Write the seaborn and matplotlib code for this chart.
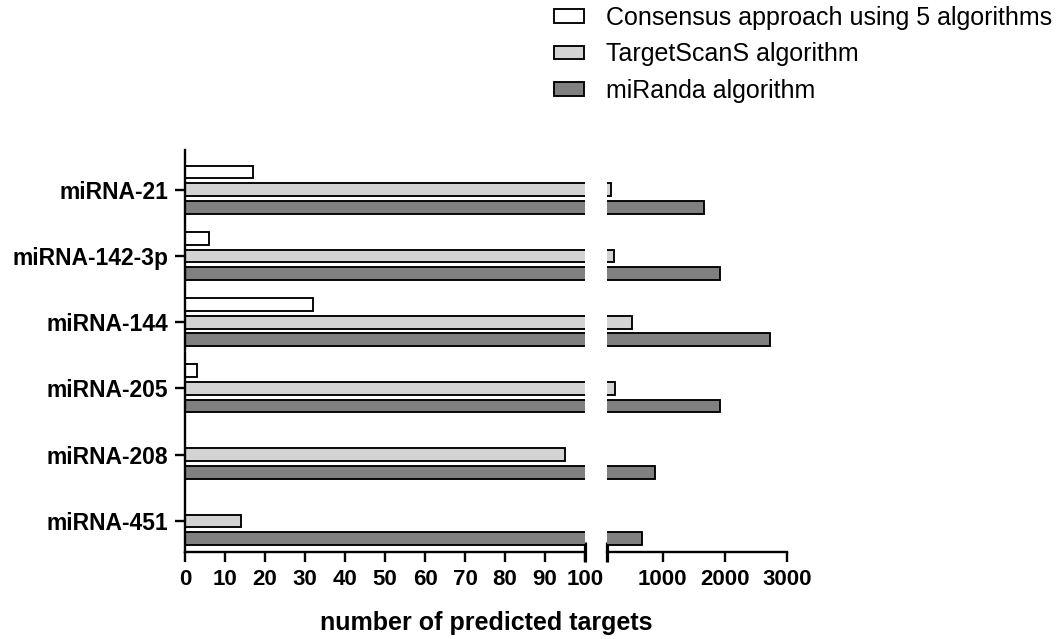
import matplotlib
matplotlib.use("Agg")
import matplotlib.pyplot as plt
import seaborn as sns
import pandas as pd
from matplotlib.ticker import FixedLocator

# Predicted target counts per miRNA and method
mirnas = ["miRNA-21", "miRNA-142-3p", "miRNA-144", "miRNA-205", "miRNA-208", "miRNA-451"]
methods = ["Consensus approach using 5 algorithms", "TargetScanS algorithm", "miRanda algorithm"]
consensus = [17, 6, 32, 3, 0, 0]
targetscan = [169, 218, 503, 222, 95, 14]
miranda = [1670, 1925, 2730, 1925, 873, 657]
left_ticks = [0, 10, 20, 30, 40, 50, 60, 70, 80, 90, 100]
right_ticks = [1000, 2000, 3000]
colors = ["#FFFFFF", "#D3D3D3", "#808080"]

df = pd.DataFrame({
    "miRNA": mirnas * 3,
    "method": [methods[0]] * 6 + [methods[1]] * 6 + [methods[2]] * 6,
    "targets": consensus + targetscan + miranda,
})

sns.set_theme(style="white")
plt.rcParams["font.family"] = ["Liberation Sans", "DejaVu Sans"]
plt.rcParams.update({
    "text.color": "black",
    "axes.edgecolor": "black",
    "axes.labelcolor": "black",
    "xtick.color": "black",
    "ytick.color": "black",
})

W, H = 1057, 639
fig = plt.figure(figsize=(W / 100, H / 100), dpi=100)

y0, y1 = 150, 552
bottom = (H - y1) / H
height = (y1 - y0) / H
ax_l = fig.add_axes([185 / W, bottom, 400 / W, height])
ax_r = fig.add_axes([607 / W, bottom, 180 / W, height])

for ax in (ax_l, ax_r):
    sns.barplot(data=df, y="miRNA", x="targets", hue="method", order=mirnas,
                hue_order=methods, palette=colors, orient="h", width=0.8,
                gap=0.28, edgecolor="black", linewidth=1.35, saturation=1,
                errorbar=None, legend=(ax is ax_l), ax=ax)
    ax.set_ylim(5.47, -0.6)
    ax.set_xlabel("")
    ax.set_ylabel("")
    for s in ("top", "right"):
        ax.spines[s].set_visible(False)
    ax.spines["bottom"].set_linewidth(1.7)
    ax.spines["left"].set_linewidth(1.7)
    ax.xaxis.remove_overlapping_locs = False
    ax.tick_params(axis="x", which="major", direction="out", length=7,
                   width=1.7, pad=5, labelsize=16, bottom=True)
    ax.tick_params(axis="x", which="minor", direction="inout", length=14,
                   width=2.3, bottom=True)

# left segment: 0-100
ax_l.set_xlim(0, 100)
ax_l.set_xticks(left_ticks)
ax_l.xaxis.set_minor_locator(FixedLocator([100]))
ax_l.tick_params(axis="y", direction="out", length=7, width=1.7, pad=5,
                 labelsize=16.5, left=True)
for lab in ax_l.get_xticklabels() + ax_l.get_yticklabels():
    lab.set_fontweight("bold")

# right segment: 100-3000, only bars that reach past the break
ax_r.set_xlim(100, 3000)
for bar in ax_r.patches:
    if bar.get_width() <= 100:
        bar.set_visible(False)
ax_r.set_xticks(right_ticks)
ax_r.xaxis.set_minor_locator(FixedLocator([100]))
ax_r.spines["left"].set_visible(False)
ax_r.set_yticks([])
for lab in ax_r.get_xticklabels():
    lab.set_fontweight("bold")

# legend in the upper right
handles, labels = ax_l.get_legend_handles_labels()
ax_l.get_legend().remove()
for h in handles:
    h.set_linewidth(1.35)
fig.legend(handles, labels, loc="upper left",
           bbox_to_anchor=(544 / W, 1 + 4 / H), frameon=False,
           fontsize=18, handlelength=1.2, handleheight=0.45,
           handletextpad=0.9, labelspacing=0.5, borderaxespad=0)

fig.text(486 / W, 1 - 623 / H, "number of predicted targets", ha="center",
         va="center", fontsize=18, fontweight="bold")

fig.savefig("out.png", dpi=100)
